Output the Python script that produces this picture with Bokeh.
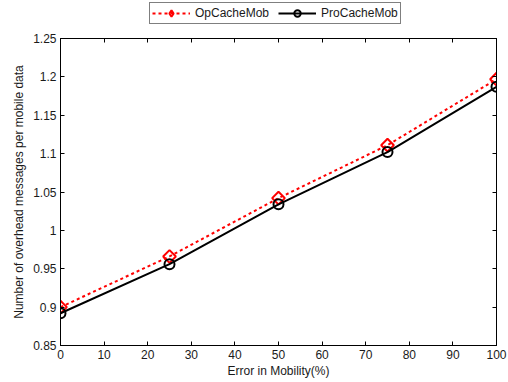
import math
from bokeh.plotting import figure
from bokeh.layouts import column
from bokeh.models import Range1d, LinearAxis, FixedTicker, Legend, LegendItem
from bokeh.embed import file_html
from bokeh.resources import INLINE

error_pct = [0, 25, 50, 75, 100]
opcache = [0.900, 0.966, 1.042, 1.111, 1.197]
procache = [0.892, 0.956, 1.034, 1.102, 1.187]

x_ticks = [0, 10, 20, 30, 40, 50, 60, 70, 80, 90, 100]
y_ticks = [0.85, 0.9, 0.95, 1.0, 1.05, 1.1, 1.15, 1.2, 1.25]
y_tick_labels = ["0.85", "0.9", "0.95", "1", "1.05", "1.1", "1.15", "1.2", "1.25"]

FONT = "Liberation Sans"
FS = "12px"
TXT = "#1a1a1a"

RED_STYLE = dict(line_color="red", line_width=2, line_dash="3 3")
RED_MARK = dict(marker="square", size=9, angle=math.pi / 4, line_color="red",
                line_width=2, fill_color=None)
RED_MARK_LEG = dict(marker="diamond", size=14, line_color="red", line_width=2, fill_color=None)
BLK_STYLE = dict(line_color="black", line_width=2)
BLK_MARK = dict(marker="circle", size=10, line_color="black", line_width=2, fill_color=None)

p = figure(width=508, height=352, output_backend="svg", toolbar_location=None,
           x_range=Range1d(0, 100), y_range=Range1d(0.85, 1.25),
           min_border_left=60, min_border_right=12, min_border_top=8, min_border_bottom=37)
p.grid.visible = False
p.outline_line_color = "black"
p.outline_line_width = 1

bottom = p.below[0]
left = p.left[0]
top = LinearAxis()
right = LinearAxis()
p.add_layout(top, "above")
p.add_layout(right, "right")

for ax in [bottom, top]:
    ax.ticker = FixedTicker(ticks=x_ticks)
for ax in [left, right]:
    ax.ticker = FixedTicker(ticks=y_ticks)
left.major_label_overrides = {t: l for t, l in zip(y_ticks, y_tick_labels)}

for ax in [bottom, left, top, right]:
    ax.major_tick_in = 4
    ax.major_tick_out = 0
    ax.minor_tick_in = 0
    ax.minor_tick_out = 0
    ax.axis_line_color = "black"
    ax.major_tick_line_color = "black"
    ax.major_label_text_font = FONT
    ax.major_label_text_font_size = FS
    ax.major_label_text_color = TXT
    ax.axis_label_text_font = FONT
    ax.axis_label_text_font_size = FS
    ax.axis_label_text_font_style = "normal"
    ax.axis_label_text_color = TXT
for ax in [top, right]:
    ax.major_label_text_color = None

bottom.axis_label = "Error in Mobility(%)"
bottom.axis_label_standoff = 2
bottom.major_label_standoff = 4
left.axis_label = "Number of overhead messages per mobile data"
left.axis_label_standoff = 4
left.major_label_standoff = 4

p.line(error_pct, opcache, **RED_STYLE)
p.scatter(error_pct, opcache, **RED_MARK)
p.line(error_pct, procache, **BLK_STYLE)
p.scatter(error_pct, procache, **BLK_MARK)

# legend strip above the plot (its renderers hold the same data, scrolled out of view)
lf = figure(width=508, height=30, output_backend="svg", toolbar_location=None,
            x_range=Range1d(0, 100), y_range=Range1d(5, 6),
            min_border_left=0, min_border_right=0, min_border_top=0, min_border_bottom=0)
lf.axis.visible = False
lf.grid.visible = False
lf.outline_line_color = None
l1 = lf.line(error_pct, opcache, **RED_STYLE)
m1 = lf.scatter(error_pct, opcache, **RED_MARK_LEG)
l2 = lf.line(error_pct, procache, **BLK_STYLE)
m2 = lf.scatter(error_pct, procache, **BLK_MARK)

legend = Legend(items=[LegendItem(label="OpCacheMob", renderers=[l1, m1]),
                       LegendItem(label="ProCacheMob", renderers=[l2, m2])],
                orientation="horizontal", location=(89, 6),
                label_text_font=FONT, label_text_font_size=FS,
                label_text_color=TXT,
                border_line_color="black", border_line_width=1,
                padding=2, spacing=9, margin=0, glyph_width=38, glyph_height=16,
                label_standoff=5, label_height=16, background_fill_alpha=1)
lf.add_layout(legend, "center")

layout = column(lf, p, spacing=0)
open("out.html", "w").write(file_html(layout, INLINE))
